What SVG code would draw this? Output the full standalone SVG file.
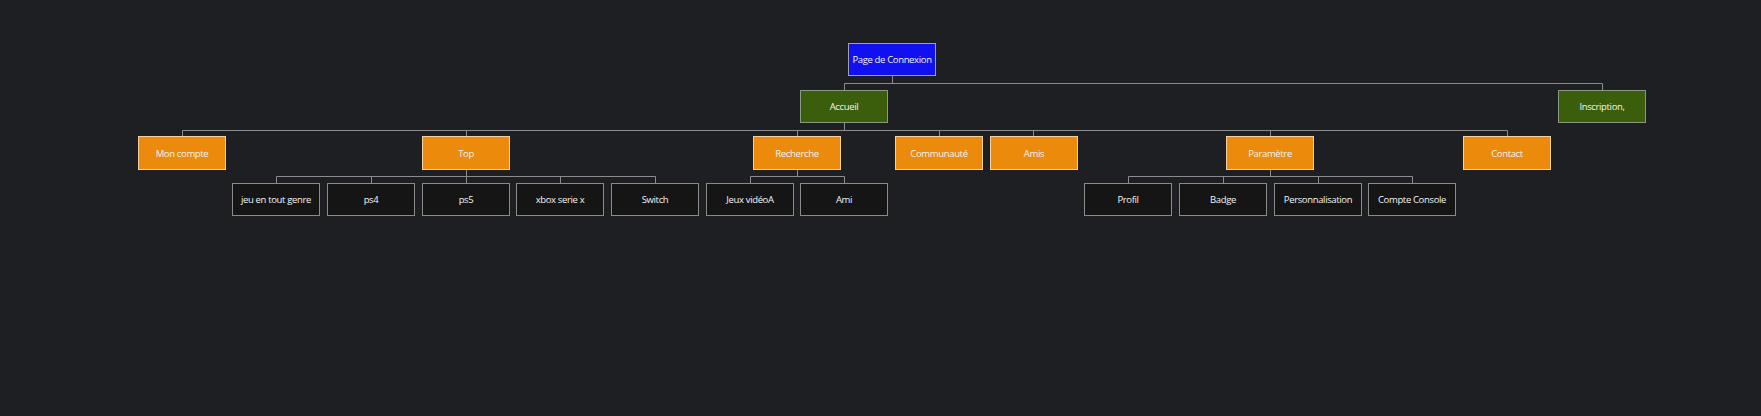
<svg xmlns="http://www.w3.org/2000/svg" width="1761" height="416" viewBox="0 0 1761 416">
<style>
.bg{fill:#1e1f22}
rect.n{stroke-width:1}
.blue{fill:#1010f0;stroke:#a0a0b0}
.green{fill:#3b5e0c;stroke:#8a9a80}
.orange{fill:#eb8a0b;stroke:#f2d0a0}
.dark{fill:#151516;stroke:#8a8a8a}
text{font-family:"Open Sans","Noto Sans",sans-serif;font-size:9.5px;letter-spacing:-0.35px;fill:#f4f4f4;text-anchor:middle;dominant-baseline:central}
.c path{fill:none;stroke:#8c8c8c;stroke-width:1}
</style>
<rect class="bg" x="0" y="0" width="1761" height="416"/>
<g class="c" id="connectors">
<path d="M892.5 75.5V83.5M844.5 83.5H1602.5M844.5 83.5V90.5M1602.5 83.5V90.5"/>
<path d="M844.5 122.5V130.5M182.5 130.5H1507.5M182.5 130.5V136.5M466.5 130.5V136.5M797.5 130.5V136.5M939.5 130.5V136.5M1033.5 130.5V136.5M1270.5 130.5V136.5M1507.5 130.5V136.5"/>
<path d="M466.5 169.5V176.5M276.5 176.5H655.5M276.5 176.5V183.5M371.5 176.5V183.5M466.5 176.5V183.5M560.5 176.5V183.5M655.5 176.5V183.5"/>
<path d="M797.5 169.5V176.5M750.5 176.5H844.5M750.5 176.5V183.5M844.5 176.5V183.5"/>
<path d="M1270.5 169.5V176.5M1128.5 176.5H1412.5M1128.5 176.5V183.5M1223.5 176.5V183.5M1318.5 176.5V183.5M1412.5 176.5V183.5"/>
</g>
<g id="page-connexion"><rect class="n blue" x="848.5" y="43.5" width="87" height="32"/><text x="892" y="59.5">Page de Connexion</text></g>
<g id="accueil"><rect class="n green" x="800.5" y="90.5" width="87" height="32"/><text x="844" y="106.5">Accueil</text></g>
<g id="inscription"><rect class="n green" x="1558.5" y="90.5" width="87" height="32"/><text x="1602" y="106.5">Inscription,</text></g>
<g id="mon-compte"><rect class="n orange" x="138.5" y="136.5" width="87" height="33"/><text x="182" y="153">Mon compte</text></g>
<g id="top"><rect class="n orange" x="422.5" y="136.5" width="87" height="33"/><text x="466" y="153">Top</text></g>
<g id="recherche"><rect class="n orange" x="753.5" y="136.5" width="87" height="33"/><text x="797" y="153">Recherche</text></g>
<g id="communaute"><rect class="n orange" x="895.5" y="136.5" width="87" height="33"/><text x="939" y="153">Communauté</text></g>
<g id="amis"><rect class="n orange" x="990.5" y="136.5" width="87" height="33"/><text x="1034" y="153">Amis</text></g>
<g id="parametre"><rect class="n orange" x="1226.5" y="136.5" width="87" height="33"/><text x="1270" y="153">Paramètre</text></g>
<g id="contact"><rect class="n orange" x="1463.5" y="136.5" width="87" height="33"/><text x="1507" y="153">Contact</text></g>
<g id="jeu-tout-genre"><rect class="n dark" x="232.5" y="183.5" width="87" height="32"/><text x="276" y="199.5">jeu en tout genre</text></g>
<g id="ps4"><rect class="n dark" x="327.5" y="183.5" width="87" height="32"/><text x="371" y="199.5">ps4</text></g>
<g id="ps5"><rect class="n dark" x="422.5" y="183.5" width="87" height="32"/><text x="466" y="199.5">ps5</text></g>
<g id="xbox"><rect class="n dark" x="516.5" y="183.5" width="87" height="32"/><text x="560" y="199.5">xbox serie x</text></g>
<g id="switch"><rect class="n dark" x="611.5" y="183.5" width="87" height="32"/><text x="655" y="199.5">Switch</text></g>
<g id="jeux-video"><rect class="n dark" x="706.5" y="183.5" width="87" height="32"/><text x="750" y="199.5">Jeux vidéoA</text></g>
<g id="ami"><rect class="n dark" x="800.5" y="183.5" width="87" height="32"/><text x="844" y="199.5">Ami</text></g>
<g id="profil"><rect class="n dark" x="1084.5" y="183.5" width="87" height="32"/><text x="1128" y="199.5">Profil</text></g>
<g id="badge"><rect class="n dark" x="1179.5" y="183.5" width="87" height="32"/><text x="1223" y="199.5">Badge</text></g>
<g id="personnalisation"><rect class="n dark" x="1274.5" y="183.5" width="87" height="32"/><text x="1318" y="199.5">Personnalisation</text></g>
<g id="compte-console"><rect class="n dark" x="1368.5" y="183.5" width="87" height="32"/><text x="1412" y="199.5">Compte Console</text></g>
</svg>
